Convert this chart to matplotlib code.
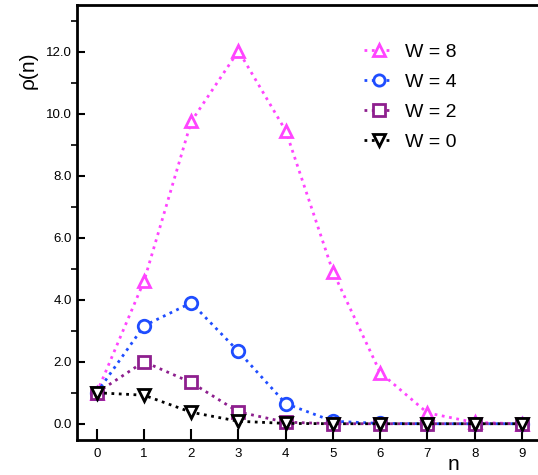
import numpy as np
import matplotlib
matplotlib.use('Agg')
import matplotlib.pyplot as plt

plt.rcParams['font.family'] = ['Liberation Sans', 'DejaVu Sans']

n = np.arange(10)
w8 = [1.0, 4.6, 9.75, 12.03, 9.45, 4.9, 1.65, 0.35, 0.04, 0.0]
w4 = [1.0, 3.16, 3.9, 2.33, 0.65, 0.08, 0.01, 0.0, 0.0, 0.0]
w2 = [1.0, 2.0, 1.33, 0.38, 0.05, 0.0, 0.0, 0.0, 0.0, 0.0]
w0 = [1.0, 0.92, 0.37, 0.08, 0.01, 0.0, 0.0, 0.0, 0.0, 0.0]

series = [
    (w8, 'W = 8', '#ff44ff', '^'),
    (w4, 'W = 4', '#1f4dff', 'o'),
    (w2, 'W = 2', '#8e1f8e', 's'),
    (w0, 'W = 0', 'black', 'v'),
]

fig = plt.figure(figsize=(5.38, 4.75), dpi=100)
ax = fig.add_axes([0.143, 0.074, 0.857, 0.915])

for vals, lab, col, mk in series:
    ax.plot(n, vals, linestyle=':', linewidth=2, color=col, marker=mk,
            markersize=9, markerfacecolor='white', markeredgecolor=col,
            markeredgewidth=2, label=lab)

ax.set_xlim(-0.42, 9.34)
ax.set_ylim(-0.52, 13.5)
ax.set_xticks(n)
ax.set_yticks(np.arange(0, 13, 2))
ax.set_yticklabels(['%.1f' % v for v in np.arange(0, 13, 2)])
ax.set_yticks(np.arange(1, 14, 2), minor=True)
ax.tick_params(axis='both', direction='in', labelsize=9.5, width=1.5)
ax.tick_params(axis='x', length=8, pad=6)
ax.tick_params(axis='y', which='major', length=6)
ax.tick_params(axis='y', which='minor', length=4, width=1.2)
ax.spines['right'].set_visible(False)
for s in ['left', 'bottom', 'top']:
    ax.spines[s].set_linewidth(2)

ax.set_ylabel('ρ(n)', fontsize=15)
ax.yaxis.set_label_coords(-0.085, 0.85)
ax.set_xlabel('n', fontsize=15)
ax.xaxis.set_label_coords(0.816, -0.035)

ax.legend(loc='upper left', bbox_to_anchor=(0.585, 0.952), frameon=False,
          fontsize=14, handlelength=1.5, labelspacing=0.63, handletextpad=0.6,
          markerscale=0.9)

fig.savefig('out.png', dpi=100)
